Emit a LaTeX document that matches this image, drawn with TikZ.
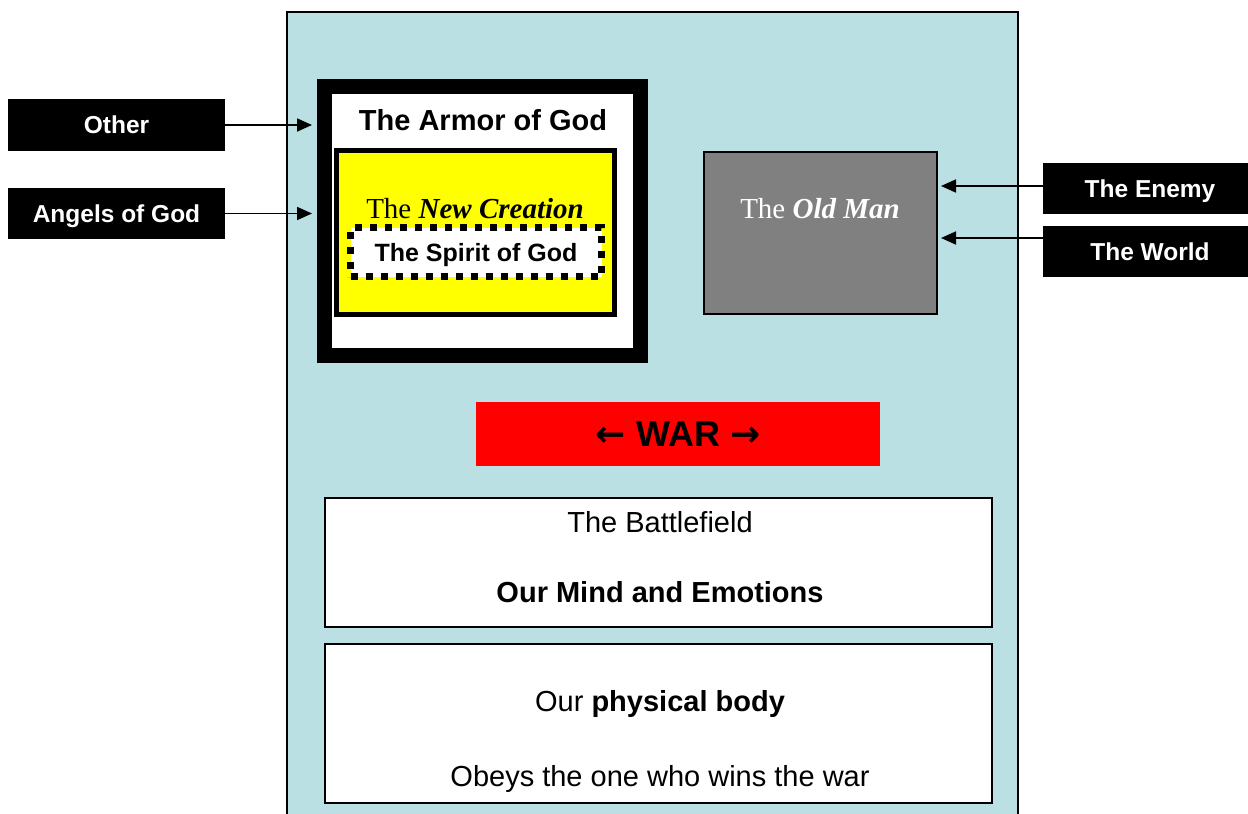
\documentclass[tikz,border=0pt]{standalone}
\usepackage{fontspec}
\setmainfont{Liberation Sans}
\newfontfamily\tnr{Liberation Serif}
\newfontfamily\djv{DejaVu Sans}
\usetikzlibrary{arrows.meta}
\definecolor{panelblue}{RGB}{187,224,227}
\definecolor{yel}{RGB}{255,255,0}
\definecolor{redbox}{RGB}{255,0,0}
\definecolor{graybox}{RGB}{128,128,128}
\begin{document}
\begin{tikzpicture}[x=1pt,y=-1pt,
  lbl/.style={fill=black,text=white,inner sep=0pt,minimum width=217pt,minimum height=52pt},
  lbltxt/.style={text=white,inner sep=0pt,anchor=base,font=\fontsize{24.5}{28}\selectfont\bfseries},
  arr/.style={line width=1.8pt,-{Triangle[length=15pt,width=13pt]}},
  whitebox/.style={draw=black,line width=2pt,fill=white,inner sep=0pt},
  txt/.style={inner sep=0pt,anchor=base},
  big/.style={font=\fontsize{29}{34}\selectfont},
  serif/.style={font=\fontsize{29}{34}\selectfont\tnr}
]
\useasboundingbox (0,0) rectangle (1248,814);
\path[fill=white] (0,0) rectangle (1248,814);
% main panel
\draw[fill=panelblue,line width=2pt] (287,830) -- (287,12) -- (1018,12) -- (1018,830);

% armor of God
\node[draw=black,line width=15pt,fill=white,inner sep=0pt,minimum width=316pt,minimum height=269pt] (armor) at (482.5,221) {};
\node[draw=black,line width=5pt,fill=yel,inner sep=0pt,minimum width=278pt,minimum height=164pt] (newcr) at (475.5,232.5) {};
\node[txt,font=\fontsize{29}{34}\selectfont\bfseries] (armortxt) at (483,130) {The Armor of God};
\node[txt,serif] (newcrtxt) at (475,218) {The \textbf{\textit{New Creation}}};
\node[draw=black,line width=7pt,dash pattern=on 7pt off 8pt,fill=white,inner sep=0pt,minimum width=251pt,minimum height=49pt] (spirit) at (476,252) {};
\node[txt,font=\fontsize{25}{30}\selectfont\bfseries] (spirittxt) at (476,261) {The Spirit of God};

% old man
\node[whitebox,fill=graybox,minimum width=233pt,minimum height=162pt] (oldman) at (820.5,233) {};
\node[txt,serif,text=white] (oldmantxt) at (820,218) {The \textbf{\textit{Old Man}}};

% war
\node[fill=redbox,inner sep=0pt,minimum width=404pt,minimum height=64pt] (war) at (678,434) {};
\node[txt,font=\fontsize{36}{40}\selectfont\bfseries] (wartxt) at (678,446) {{\djv\bfseries ←} WAR {\djv\bfseries →}};

% battlefield
\node[whitebox,minimum width=667pt,minimum height=129pt] (battle) at (658.5,562.5) {};
\node[txt,big] (battle1) at (660,532) {The Battlefield};
\node[txt,big] (battle2) at (660,602) {\textbf{Our Mind and Emotions}};

% body
\node[whitebox,minimum width=667pt,minimum height=159pt] (body) at (658.5,723.5) {};
\node[txt,big] (body1) at (660,711) {Our \textbf{physical body}};
\node[txt,big] (body2) at (660,786) {Obeys the one who wins the war};

% left labels
\node[lbl] (other) at (116.5,125) {};
\node[lbltxt] (othertxt) at (116.5,133) {Other};
\node[lbl,minimum height=51pt] (angels) at (116.5,213.5) {};
\node[lbltxt] (angelstxt) at (116.5,222) {Angels of God};

% right labels
\node[lbl,minimum width=214pt,minimum height=51pt] (enemy) at (1150,188.5) {};
\node[lbltxt] (enemytxt) at (1150,197) {The Enemy};
\node[lbl,minimum width=214pt,minimum height=51pt] (world) at (1150,251.5) {};
\node[lbltxt] (worldtxt) at (1150,260) {The World};

% arrows
\draw[arr,shorten >=5pt] (other) -- (other -| armor.west);
\draw[arr,shorten >=5pt] (angels) -- (angels -| armor.west);
\draw[arr,shorten >=3pt] ([yshift=2.5pt]enemy.west) -- ([yshift=2.5pt]enemy.west -| oldman.east);
\draw[arr,shorten >=3pt] ([yshift=13.5pt]world.west) -- ([yshift=13.5pt]world.west -| oldman.east);
\end{tikzpicture}
\end{document}
